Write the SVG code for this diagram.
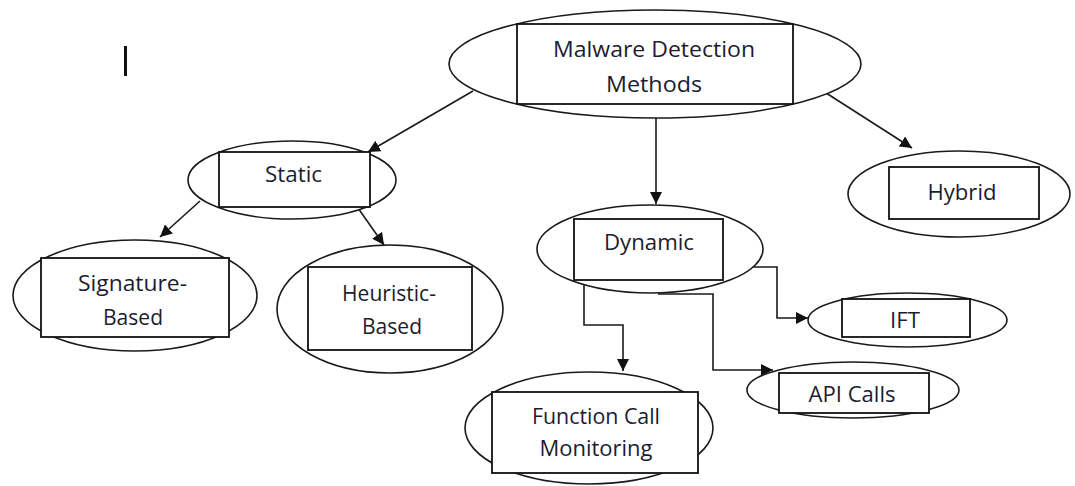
<svg xmlns="http://www.w3.org/2000/svg" width="1075" height="486" viewBox="0 0 1075 486">
  <style>
    .shape { fill: #ffffff; stroke: #1a1a1a; stroke-width: 1.6; }
    .box { fill: #ffffff; stroke: #111111; stroke-width: 1.8; }
    .label { font-family: "Open Sans", "Liberation Sans", sans-serif; font-size: 22px; fill: #1c1c30; text-anchor: middle; }
    .link { fill: none; stroke: #1a1a1a; stroke-width: 1.6; }
  </style>
  <defs>
    <marker id="arrow" viewBox="0 0 12 12" refX="12" refY="6" markerWidth="12" markerHeight="12" markerUnits="userSpaceOnUse" orient="auto">
      <path d="M0,0 L12,6 L0,12 z" fill="#111111"/>
    </marker>
  </defs>
  <rect width="1075" height="486" fill="#ffffff"/>

  <!-- text cursor bar -->
  <rect x="124" y="46" width="3" height="30" fill="#111111"/>

  <!-- connectors -->
  <g id="connectors">
    <line class="link" x1="473" y1="91" x2="368" y2="152" marker-end="url(#arrow)"/>
    <line class="link" x1="656" y1="118" x2="656" y2="204" marker-end="url(#arrow)"/>
    <line class="link" x1="823" y1="91" x2="912" y2="148" marker-end="url(#arrow)"/>
    <line class="link" x1="200" y1="201" x2="160" y2="237" marker-end="url(#arrow)"/>
    <line class="link" x1="358" y1="208" x2="384" y2="245" marker-end="url(#arrow)"/>
    <polyline class="link" points="748,267 777,267 777,318 808,318" marker-end="url(#arrow)"/>
    <polyline class="link" points="658,294 713,294 713,370 773,370" marker-end="url(#arrow)"/>
    <polyline class="link" points="584,282 584,325 623,325 623,371" marker-end="url(#arrow)"/>
  </g>

  <!-- root -->
  <g id="node-malware-detection">
    <ellipse class="shape" cx="655" cy="64" rx="206" ry="54"/>
    <rect class="box" x="517" y="24" width="276" height="80"/>
    <text class="label" x="654" y="57" textLength="202" lengthAdjust="spacingAndGlyphs">Malware Detection</text>
    <text class="label" x="654" y="92" textLength="96" lengthAdjust="spacingAndGlyphs">Methods</text>
  </g>

  <g id="node-static">
    <ellipse class="shape" cx="292" cy="180" rx="104" ry="39"/>
    <rect class="box" x="219" y="152" width="151" height="55"/>
    <text class="label" x="293.5" y="182" textLength="57" lengthAdjust="spacingAndGlyphs">Static</text>
  </g>

  <g id="node-signature">
    <ellipse class="shape" cx="135" cy="295.5" rx="122" ry="55.5"/>
    <rect class="box" x="41" y="258" width="188" height="79"/>
    <text class="label" x="132.5" y="291" textLength="109" lengthAdjust="spacingAndGlyphs">Signature-</text>
    <text class="label" x="133" y="325" textLength="60" lengthAdjust="spacingAndGlyphs">Based</text>
  </g>

  <g id="node-heuristic">
    <ellipse class="shape" cx="390" cy="309" rx="113" ry="64"/>
    <rect class="box" x="308" y="267" width="164" height="83"/>
    <text class="label" x="389" y="301" textLength="94" lengthAdjust="spacingAndGlyphs">Heuristic-</text>
    <text class="label" x="392" y="334" textLength="60" lengthAdjust="spacingAndGlyphs">Based</text>
  </g>

  <g id="node-dynamic">
    <ellipse class="shape" cx="650" cy="249" rx="113" ry="44"/>
    <rect class="box" x="574" y="219" width="149" height="61"/>
    <text class="label" x="649" y="250" textLength="90" lengthAdjust="spacingAndGlyphs">Dynamic</text>
  </g>

  <g id="node-hybrid">
    <ellipse class="shape" cx="959" cy="194" rx="111" ry="43"/>
    <rect class="box" x="889" y="167" width="150" height="52"/>
    <text class="label" x="962" y="200" textLength="69" lengthAdjust="spacingAndGlyphs">Hybrid</text>
  </g>

  <g id="node-ift">
    <ellipse class="shape" cx="907.5" cy="320" rx="99.5" ry="27"/>
    <rect class="box" x="842" y="299" width="128" height="38"/>
    <text class="label" x="905" y="328" textLength="30" lengthAdjust="spacingAndGlyphs">IFT</text>
  </g>

  <g id="node-api-calls">
    <ellipse class="shape" cx="853" cy="390" rx="106" ry="28"/>
    <rect class="box" x="779" y="373" width="150" height="40"/>
    <text class="label" x="852" y="402" textLength="87" lengthAdjust="spacingAndGlyphs">API Calls</text>
  </g>

  <g id="node-function-call">
    <ellipse class="shape" cx="589" cy="428" rx="124" ry="56"/>
    <rect class="box" x="492" y="392" width="206" height="81"/>
    <text class="label" x="596" y="424" textLength="128" lengthAdjust="spacingAndGlyphs">Function Call</text>
    <text class="label" x="596" y="456" textLength="113" lengthAdjust="spacingAndGlyphs">Monitoring</text>
  </g>
</svg>
